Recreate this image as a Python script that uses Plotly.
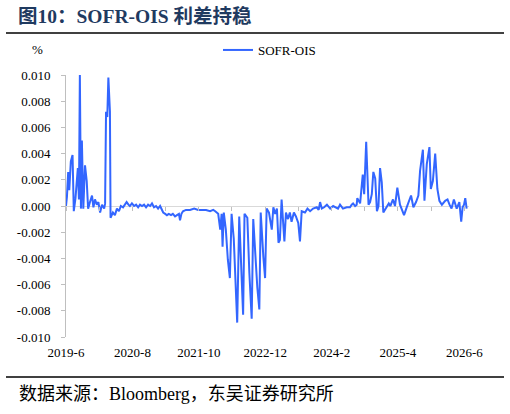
import plotly.graph_objects as go

# ---- data ----
dates = [
    "2019-06-01", "2019-06-07", "2019-06-15", "2019-06-22", "2019-07-02", "2019-07-13", "2019-07-21",
    "2019-08-01", "2019-08-10", "2019-08-16", "2019-08-23", "2019-08-29", "2019-09-05", "2019-09-11",
    "2019-09-20", "2019-10-01", "2019-10-12", "2019-10-21", "2019-11-02", "2019-11-15", "2019-11-24",
    "2019-12-04", "2019-12-16", "2019-12-26", "2020-01-06", "2020-01-18", "2020-02-01", "2020-02-07",
    "2020-02-13", "2020-02-21", "2020-02-28", "2020-03-04", "2020-03-09", "2020-03-13", "2020-03-28",
    "2020-04-10", "2020-04-23", "2020-05-06", "2020-05-18", "2020-06-01", "2020-06-14", "2020-06-24",
    "2020-07-06", "2020-07-15", "2020-07-28", "2020-08-11", "2020-08-24", "2020-09-06", "2020-09-18",
    "2020-10-01", "2020-10-14", "2020-10-27", "2020-11-09", "2020-11-22", "2020-12-04", "2020-12-17",
    "2020-12-30", "2021-01-12", "2021-01-25", "2021-02-05", "2021-02-14", "2021-02-27", "2021-03-10",
    "2021-03-22", "2021-04-05", "2021-04-17", "2021-05-01", "2021-05-13", "2021-05-26", "2021-06-02",
    "2021-06-11", "2021-06-21", "2021-07-10", "2021-08-05", "2021-09-01", "2021-09-26", "2021-10-21",
    "2021-11-16", "2021-12-12", "2022-01-01", "2022-01-14", "2022-01-26", "2022-02-02", "2022-02-15",
    "2022-02-24", "2022-03-02", "2022-03-10", "2022-03-23", "2022-04-05", "2022-04-18", "2022-04-29",
    "2022-05-13", "2022-05-26", "2022-06-04", "2022-06-17", "2022-07-02", "2022-07-12", "2022-07-21",
    "2022-08-08", "2022-08-21", "2022-09-05", "2022-09-15", "2022-09-26", "2022-10-11", "2022-10-24",
    "2022-11-02", "2022-11-19", "2022-11-30", "2022-12-10", "2022-12-25", "2023-01-12", "2023-01-22",
    "2023-02-03", "2023-02-14", "2023-02-24", "2023-03-05", "2023-03-16", "2023-03-26", "2023-04-03",
    "2023-04-13", "2023-04-26", "2023-05-08", "2023-05-19", "2023-06-03", "2023-06-16", "2023-07-01",
    "2023-07-12", "2023-07-23", "2023-08-13", "2023-08-29", "2023-09-15", "2023-10-04", "2023-10-28",
    "2023-11-09", "2023-11-18", "2023-11-29", "2023-12-14", "2024-01-01", "2024-01-22", "2024-02-10",
    "2024-03-01", "2024-03-12", "2024-03-25", "2024-04-13", "2024-05-07", "2024-05-28", "2024-06-08",
    "2024-06-17", "2024-06-30", "2024-07-10", "2024-07-14", "2024-08-01", "2024-08-18", "2024-08-27",
    "2024-09-09", "2024-09-17", "2024-09-24", "2024-10-04", "2024-10-15", "2024-10-25", "2024-11-06",
    "2024-11-17", "2024-11-27", "2024-12-07", "2024-12-18", "2024-12-28", "2025-01-16", "2025-02-01",
    "2025-02-11", "2025-02-28", "2025-03-13", "2025-03-28", "2025-04-14", "2025-04-25", "2025-05-10",
    "2025-05-27", "2025-06-13", "2025-06-24", "2025-07-09", "2025-07-26", "2025-08-10", "2025-08-21",
    "2025-09-08", "2025-09-18", "2025-10-03", "2025-10-20", "2025-10-29", "2025-11-11", "2025-11-26",
    "2025-12-10", "2025-12-23", "2026-01-08", "2026-01-29", "2026-02-13", "2026-02-26", "2026-03-11",
    "2026-03-26", "2026-04-13", "2026-04-30", "2026-05-12", "2026-05-21", "2026-05-30", "2026-06-07",
    "2026-06-16",
]
sofr_ois = [
    0.0000, 0.0007, 0.0026, 0.0012, 0.0034, 0.0039, -0.0004,
    0.0006, 0.0020, 0.0029, 0.0005, 0.0100, -0.0002, 0.0050,
    -0.0002, 0.0031, 0.0019, -0.0002, 0.0003, 0.0008, -0.0001,
    0.0005, 0.0001, 0.0003, -0.0005, 0.0001, -0.0002, 0.0002,
    0.0072, 0.0068, 0.0098, 0.0085, 0.0072, -0.0009, -0.0005,
    -0.0007, -0.0002, -0.0004, 0.0000, -0.0001, 0.0001, 0.0003,
    0.0001, 0.0000, 0.0002, 0.0000, 0.0001, -0.0001, 0.0001,
    0.0000, 0.0001, -0.0001, 0.0001, 0.0000, 0.0002, -0.0001,
    0.0000, -0.0002, 0.0000, -0.0003, -0.0005, -0.0006, -0.0007,
    -0.0006, -0.0007, -0.0006, -0.0008, -0.0007, -0.0006, -0.0011,
    -0.0006, -0.0004, -0.0003, -0.0003, -0.0002, -0.0003, -0.0003,
    -0.0003, -0.0004, -0.0003, -0.0004, -0.0005, -0.0006, -0.0018,
    -0.0006, -0.0031, -0.0005, -0.0018, -0.0041, -0.0055, -0.0006,
    -0.0025, -0.0059, -0.0089, -0.0008, -0.0057, -0.0083, -0.0006,
    -0.0009, -0.0051, -0.0086, -0.0010, -0.0034, -0.0062, -0.0079,
    -0.0005, -0.0039, -0.0055, -0.0002, -0.0005, -0.0018, -0.0001,
    -0.0006, -0.0002, -0.0028, -0.0026, 0.0005, -0.0016, -0.0027,
    -0.0005, -0.0010, -0.0005, -0.0012, -0.0005, -0.0008, -0.0013,
    -0.0027, -0.0004, -0.0005, -0.0002, -0.0004, -0.0002, -0.0001,
    -0.0003, 0.0003, -0.0002, -0.0001, 0.0001, -0.0002, 0.0000,
    -0.0001, -0.0002, 0.0001, -0.0002, -0.0001, -0.0001, 0.0001,
    0.0002, 0.0000, 0.0001, 0.0006, 0.0002, 0.0024, 0.0009,
    0.0049, 0.0017, 0.0001, 0.0003, 0.0009, 0.0026, 0.0021,
    -0.0004, 0.0000, 0.0029, 0.0018, -0.0005, -0.0001, 0.0002,
    0.0000, 0.0005, 0.0000, 0.0014, 0.0001, -0.0002, -0.0007,
    -0.0001, 0.0005, 0.0008, -0.0001, 0.0003, 0.0008, 0.0027,
    0.0043, 0.0004, 0.0032, 0.0045, 0.0013, 0.0019, 0.0040,
    0.0013, 0.0004, 0.0001, 0.0004, 0.0005, 0.0001, -0.0002,
    0.0005, -0.0002, 0.0003, -0.0012, -0.0001, 0.0001, 0.0006,
    -0.0002,
]
x_tick_vals = ["2019-06-01", "2020-08-01", "2021-10-01", "2022-12-01", "2024-02-01", "2025-04-01", "2026-06-01"]
x_tick_text = ["2019-6", "2020-8", "2021-10", "2022-12", "2024-2", "2025-4", "2026-6"]
y_tick_vals = [-0.010, -0.008, -0.006, -0.004, -0.002, 0.000, 0.002, 0.004, 0.006, 0.008, 0.010]
y_tick_text = ["-0.010", "-0.008", "-0.006", "-0.004", "-0.002", "0.000", "0.002", "0.004", "0.006", "0.008", "0.010"]

W, H = 510, 414
L, R, T, B = 66, 41, 75, 77
pw, ph = W - L - R, H - T - B

def px(x):
    return (x - L) / pw

def py(y):
    return (H - B - y) / ph

SERIF = "Liberation Serif, Times New Roman, Noto Sans CJK SC, serif"
AXIS_GRAY = "#BFBFBF"
X_RANGE = ["2019-06-01", "2026-07-01"]

fig = go.Figure()
fig.add_trace(go.Scatter(
    x=dates, y=sofr_ois, mode="lines", name="SOFR-OIS",
    line=dict(color="#3366FF", width=2),
    xaxis="x2", yaxis="y",
))
fig.add_trace(go.Scatter(
    x=dates, y=sofr_ois, mode="lines", showlegend=False, hoverinfo="skip",
    line=dict(width=0), opacity=0, xaxis="x", yaxis="y",
))

fig.update_layout(
    width=W, height=H,
    margin=dict(l=L, r=R, t=T, b=B),
    paper_bgcolor="white", plot_bgcolor="white",
    font=dict(family=SERIF, size=13, color="#000000"),
    showlegend=True,
    legend=dict(
        orientation="h", x=px(218), y=py(50), xanchor="left", yanchor="middle",
        font=dict(family=SERIF, size=13, color="#000000"),
        bgcolor="rgba(0,0,0,0)",
    ),
    xaxis=dict(
        type="date", range=X_RANGE,
        tickvals=x_tick_vals, ticktext=x_tick_text,
        showline=False, showgrid=False, zeroline=False, ticks="",
        tickfont=dict(family=SERIF, size=13, color="#000000"),
        ticklabelstandoff=6,
    ),
    xaxis2=dict(
        type="date", range=X_RANGE, overlaying="x", anchor="free", position=0.5,
        side="bottom", dtick="M7", tick0="2019-06-01",
        showline=False, showgrid=False, zeroline=False,
        ticks="outside", ticklen=4, tickcolor=AXIS_GRAY, tickwidth=1,
        showticklabels=False,
    ),
    yaxis=dict(
        range=[-0.010, 0.010], tickvals=y_tick_vals, ticktext=y_tick_text,
        showline=True, linecolor=AXIS_GRAY, linewidth=1,
        ticks="outside", ticklen=4, tickcolor=AXIS_GRAY,
        showgrid=False, zeroline=True, zerolinecolor="#D9D9D9", zerolinewidth=1,
        tickfont=dict(family=SERIF, size=13, color="#000000"),
        ticklabelstandoff=8,
    ),
    title=dict(
        text="<b>图10：SOFR-OIS 利差持稳</b>",
        xref="container", yref="container",
        x=18 / W, y=1 - 16 / H, xanchor="left", yanchor="middle",
        font=dict(family=SERIF, size=19.5, color="#1F3A60"),
    ),
    shapes=[
        dict(type="line", xref="paper", yref="paper", x0=px(6), x1=px(504), y0=py(33), y1=py(33),
             line=dict(color="#000000", width=1.5)),
        dict(type="line", xref="paper", yref="paper", x0=px(6), x1=px(504), y0=py(377), y1=py(377),
             line=dict(color="#000000", width=1.5)),
    ],
    annotations=[
        dict(text="%", xref="paper", yref="paper", x=px(37), y=py(50), xanchor="center", yanchor="middle",
             showarrow=False, font=dict(family=SERIF, size=13, color="#000000")),
        dict(text="数据来源：Bloomberg，东吴证券研究所", xref="paper", yref="paper",
             x=px(17), y=py(394), xanchor="left", yanchor="middle", showarrow=False,
             font=dict(family=SERIF, size=18, color="#000000")),
    ],
)

fig.write_html("out.html")
